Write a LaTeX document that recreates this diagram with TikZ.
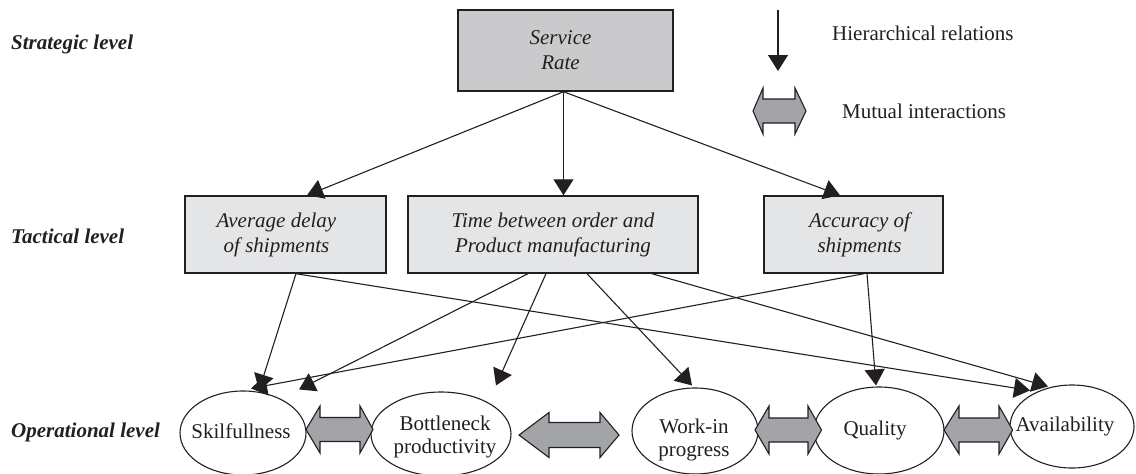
\documentclass[tikz,border=0pt]{standalone}
\usepackage{fontspec}
\setmainfont{Liberation Serif}
\usetikzlibrary{arrows.meta,calc,shapes.geometric}
\definecolor{ink}{RGB}{35,31,32}
\definecolor{srfill}{RGB}{202,202,204}
\definecolor{tfill}{RGB}{228,229,231}
\definecolor{afill}{RGB}{163,164,167}
\newcommand\mutarrow[7]{%
  % #1 left tip x, #2 left inner x, #3 right inner x, #4 right tip x, #5 centre y, #6 head half, #7 shaft half
  \draw[mutual] (#1,#5) -- (#2,#5-#6) -- (#2,#5-#7) -- (#3,#5-#7) -- (#3,#5-#6) -- (#4,#5)
    -- (#3,#5+#6) -- (#3,#5+#7) -- (#2,#5+#7) -- (#2,#5+#6) -- cycle;}
\begin{document}
\begin{tikzpicture}[x=1pt,y=-1pt,
  lvl/.style={font=\fontsize{21}{25}\selectfont\bfseries\itshape, text=ink, anchor=base west, inner sep=0},
  legtext/.style={font=\fontsize{21}{25}\selectfont, text=ink, anchor=base west, inner sep=0},
  sbox/.style={draw=ink, line width=1.4pt, fill=srfill, minimum width=215pt, minimum height=81pt, inner sep=0},
  tbox/.style={draw=ink, line width=1.4pt, fill=tfill, minimum height=77pt, inner sep=0},
  btext/.style={font=\fontsize{21}{25}\selectfont\itshape, text=ink, align=center, inner sep=0},
  oval/.style={ellipse, draw=ink, line width=1.1pt, fill=white, inner sep=0},
  otext/.style={font=\fontsize{21}{23}\selectfont, text=ink, align=center, inner sep=0},
  hier/.style={draw=ink, line width=1.1pt, -{Triangle[length=16pt,width=20pt]}},
  mutual/.style={draw=ink, line width=1.1pt, fill=afill, line join=miter}
]
\useasboundingbox (0,0) rectangle (1136,474);

% level labels
\node[lvl] (strat) at (11,49) {Strategic level};
\node[lvl] (tact) at (11,243) {Tactical level};
\node[lvl] (oper) at (11,437) {Operational level};

% legend
\coordinate (lgA) at (778,10);
\coordinate (lgB) at (778,71);
\draw[hier] (lgA) -- (lgB);
\node[legtext] (lgH) at (832,40) {Hierarchical relations};
\mutarrow{753}{763}{795}{806}{111}{23}{12}
\node[legtext] (lgM) at (842,118) {Mutual interactions};

% strategic
\node[sbox] (sr) at (565.5,50.5) {};
\node[btext] (srT) at ($(sr)+(-5,0)$) {Service\\Rate};

% tactical
\node[tbox, minimum width=201pt] (avg) at (285.5,234.5) {};
\node[btext] (avgT) at ($(avg)+(-9,0)$) {Average delay\\of shipments};
\node[tbox, minimum width=290pt] (tim) at (553,234.5) {};
\node[btext] (timT) at (tim) {Time between order and\\Product manufacturing};
\node[tbox, minimum width=179pt] (acc) at (853.5,234.5) {};
\node[btext] (accT) at ($(acc)+(6,0)$) {Accuracy of\\shipments};

% operational
\node[oval, minimum width=126pt, minimum height=84pt] (skil) at (243,433) {};
\node[otext] (skilT) at ($(skil)+(-2,-2)$) {Skilfullness};
\node[oval, minimum width=140pt, minimum height=84pt] (bott) at (441,434) {};
\node[otext] (bottT) at ($(bott)+(4,3)$) {Bottleneck\\productivity};
\node[oval, minimum width=126pt, minimum height=86pt] (work) at (695,431) {};
\node[otext] (workT) at ($(work)+(-1,9)$) {Work-in\\progress};
\node[oval, minimum width=130pt, minimum height=87pt] (qual) at (879,430.5) {};
\node[otext] (qualT) at ($(qual)+(-4,0)$) {Quality};
\node[oval, minimum width=124pt, minimum height=83pt] (avail) at (1072,426.5) {};
\node[otext] (availT) at ($(avail)+(-7,0)$) {Availability};

% mutual interactions
\mutarrow{306}{320}{360}{373}{429.5}{23.5}{12}
\mutarrow{519}{549}{600}{619}{435}{22.5}{12.5}
\mutarrow{755}{769}{808}{821.5}{430}{24}{12}
\mutarrow{944}{959}{999}{1012.6}{430}{24}{12}

% hierarchical relations: strategic -> tactical
\coordinate (apex) at ($(sr.south)+(-2,0)$);
\draw[hier] (apex) -- ($(avg.north)+(21.5,0)$);
\draw[hier] (apex) -- ($(tim.north)+(10.5,0)$);
\draw[hier] (apex) -- ($(acc.north)+(-13.5,0)$);

% tactical -> operational
\draw[hier] ($(avg.south)+(10.5,0)$) -- ($(skil.north)+(16,0)$);
\draw[hier] ($(avg.south)+(10.5,0)$) -- ($(avail.north)+(-42,6)$);
\draw[hier] ($(tim.south)+(-25,0)$) -- ($(skil.north)+(56,-1)$);
\draw[hier] ($(tim.south)+(-7,0)$) -- ($(bott.north)+(55,-6)$);
\draw[hier] ($(tim.south)+(34,0)$) -- ($(work.north)+(-3,-2)$);
\draw[hier] ($(tim.south)+(99,0)$) -- ($(avail.north)+(-24,2)$);
\draw[hier] ($(acc.south)+(10.5,0)$) -- ($(skil.north)+(8,-2)$);
\draw[hier] ($(acc.south)+(13.5,0)$) -- ($(qual.north)+(-3,-1)$);
\end{tikzpicture}
\end{document}
